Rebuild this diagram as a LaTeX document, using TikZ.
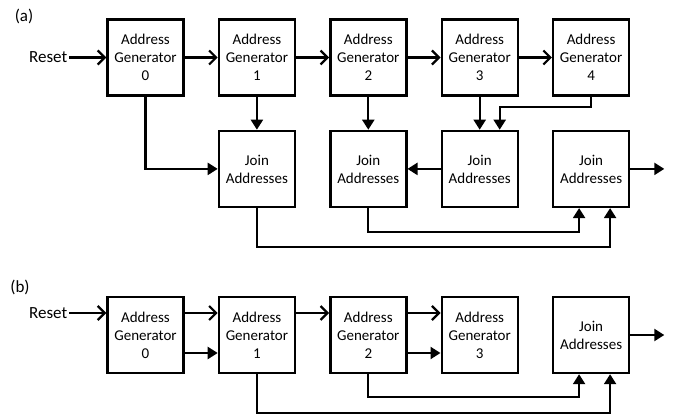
\documentclass[tikz,border=0pt]{standalone}
\usepackage{fontspec}
\setmainfont{Carlito}
\usetikzlibrary{chains,positioning,arrows.meta}

\begin{document}
\begin{tikzpicture}[
      x=1pt,y=1pt,
      line width=2.2pt,
      block/.style={
        draw,
        line width=2.4pt,
        minimum width=76pt,
        minimum height=76pt,
        inner sep=0pt,
        align=center,
        font=\fontsize{15}{18}\selectfont
      },
      gen/.style={
        block,
        join = by open arrow
      },
      open arrow/.style={-{Straight Barb[length=7pt,width=14pt]}},
      fill arrow/.style={-{Triangle[length=10pt,width=12pt]}},
      side/.style={inner sep=1pt,font=\fontsize{17}{20}\selectfont},
      node distance=33pt
      ]
      \useasboundingbox (0,0) rectangle (686,-415);

      % (a)
      \node[side] at (24,-16.5) (lbl a) {(a)};
      \begin{scope}[start chain=top]
      \node[on chain=top,block] at (145.5,-57.5)
        (G0) {Address\\Generator\\0};
      \node[on chain=top,gen]
        (G1) {Address\\Generator\\1};
      \node[on chain=top,gen]
        (G2) {Address\\Generator\\2};
      \node[on chain=top,gen]
        (G3) {Address\\Generator\\3};
      \node[on chain=top,gen]
        (G4) {Address\\Generator\\4};
      \end{scope}
      \node[side,left=37pt of G0] (reset a) {Reset};
      \draw[open arrow] (reset a) -- (G0);

      \node[block,below=33pt of G1] (J1) {Join\\Addresses};
      \node[block,below=33pt of G2] (J2) {Join\\Addresses};
      \node[block,below=33pt of G3] (J3) {Join\\Addresses};
      \node[block,below=33pt of G4] (J4) {Join\\Addresses};
      \coordinate[right=34pt of J4] (out a);

      \draw[fill arrow] (G0) |- (J1);
      \draw[fill arrow] (G1) -- (J1);
      \draw[fill arrow] (G2) -- (J2);
      \draw[fill arrow] (G3) -- (J3);
      \draw[fill arrow] (G4.south) -- ++(0,-10) -| ([xshift=20pt]J3.north);
      \draw[fill arrow] (J3) -- (J2);
      \draw[fill arrow] (J1.south) -- ++(0,-39) -| ([xshift=19pt]J4.south);
      \draw[fill arrow] (J2.south) -- ++(0,-24) -| ([xshift=-12pt]J4.south);
      \draw[fill arrow] (J4) -- (out a);

      % (b)
      \node[side] at (20,-287) (lbl b) {(b)};
      \begin{scope}[start chain=bot]
      \node[on chain=bot,block] at (145.5,-335)
        (H0) {Address\\Generator\\0};
      \node[on chain=bot,block]
        (H1) {Address\\Generator\\1};
      \node[on chain=bot,block]
        (H2) {Address\\Generator\\2};
      \node[on chain=bot,block]
        (H3) {Address\\Generator\\3};
      \node[on chain=bot,block]
        (K) {Join\\Addresses};
      \end{scope}
      \node[side,anchor=east] at ([xshift=-37pt,yshift=22pt]H0.west) (reset b) {Reset};
      \coordinate[right=34pt of K] (out b);

      \draw[open arrow] (reset b) -- ([yshift=22pt]H0.west);
      \draw[open arrow] ([yshift=22pt]H0.east) -- ([yshift=22pt]H1.west);
      \draw[fill arrow] ([yshift=-18pt]H0.east) -- ([yshift=-18pt]H1.west);
      \draw[open arrow] ([yshift=22pt]H1.east) -- ([yshift=22pt]H2.west);
      \draw[open arrow] ([yshift=22pt]H2.east) -- ([yshift=22pt]H3.west);
      \draw[fill arrow] ([yshift=-18pt]H2.east) -- ([yshift=-18pt]H3.west);
      \draw[fill arrow] (H1.south) -- ++(0,-39) -| ([xshift=19pt]K.south);
      \draw[fill arrow] (H2.south) -- ++(0,-23) -| ([xshift=-12pt]K.south);
      \draw[fill arrow] (K) -- (out b);
\end{tikzpicture}
\end{document}
